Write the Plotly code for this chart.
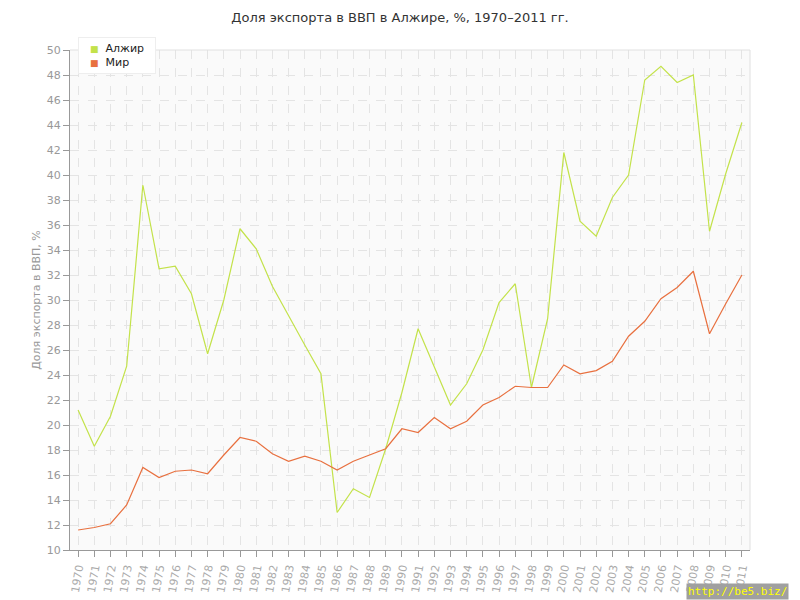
import plotly.graph_objects as go

# Доля экспорта в ВВП, %
years = list(range(1970, 2012))
algeria = [
    21.2, 18.3, 20.7, 24.7, 39.2, 32.5, 32.7, 30.5, 25.7, 30.0,
    35.7, 34.1, 31.1, 28.7, 26.4, 24.1, 13.0, 14.9, 14.2, 18.1,
    22.6, 27.7, 24.7, 21.6, 23.3, 26.0, 29.8, 31.3, 23.0, 28.5,
    41.8, 36.3, 35.1, 38.2, 40.0, 47.6, 48.7, 47.4, 48.0, 35.5,
    40.1, 44.2,
]
world = [
    11.6, 11.8, 12.1, 13.6, 16.6, 15.8, 16.3, 16.4, 16.1, 17.6,
    19.0, 18.7, 17.7, 17.1, 17.5, 17.1, 16.4, 17.1, 17.6, 18.1,
    19.7, 19.4, 20.6, 19.7, 20.3, 21.6, 22.2, 23.1, 23.0, 23.0,
    24.8, 24.1, 24.35, 25.1, 27.1, 28.3, 30.1, 31.0, 32.3, 27.3,
    29.7, 32.0,
]
series_names = ["Алжир", "Мир"]
series_colors = ["#c3e24a", "#e8703f"]

FONT = "DejaVu Sans"
GRID = "#e4e4e4"
AXIS = "#999999"

fig = go.Figure()
for name, vals, col in zip(series_names, [algeria, world], series_colors):
    fig.add_trace(go.Scatter(
        x=years, y=vals, name=name, mode="lines",
        line=dict(color=col, width=1.2),
    ))

# the page body adds an 8px offset, so margins are shifted to compensate
fig.update_layout(
    width=800, height=600,
    margin=dict(l=62, r=58, t=42, b=58),
    paper_bgcolor="white",
    plot_bgcolor="#fafafa",
    font=dict(family=FONT, size=11, color="#999999"),
    title=dict(
        text="Доля экспорта в ВВП в Алжире, %, 1970–2011 гг.",
        x=0.49, xanchor="center", y=0.985, yanchor="middle",
        font=dict(family=FONT, size=13, color="#333333"),
    ),
    showlegend=False,
)
fig.update_xaxes(
    range=[1969.5, 2011.5],
    tickmode="array", tickvals=years, ticktext=[str(y) for y in years],
    tickangle=-80,
    showgrid=True, gridcolor=GRID, griddash="dash", gridwidth=1,
    showline=True, linecolor=AXIS, linewidth=1, mirror=False,
    ticks="outside", ticklen=6, tickcolor=AXIS,
    tickfont=dict(family=FONT, size=11, color="#aaaaaa"),
    zeroline=False,
)
fig.update_yaxes(
    range=[10, 50], dtick=2,
    title=dict(text="Доля экспорта в ВВП, %", font=dict(family=FONT, size=11, color="#999999"), standoff=3),
    showgrid=True, gridcolor=GRID, griddash="dash", gridwidth=1,
    showline=True, linecolor=AXIS, linewidth=1,
    ticks="outside", ticklen=6, tickcolor=AXIS,
    tickfont=dict(family=FONT, size=11, color="#999999"),
    zeroline=False,
)
# light border on top and right of plot area
fig.add_shape(type="line", xref="paper", yref="paper", x0=0, x1=1, y0=1, y1=1,
              line=dict(color="#e0e0e0", width=1))
fig.add_shape(type="line", xref="paper", yref="paper", x0=1, x1=1, y0=0, y1=1,
              line=dict(color="#e0e0e0", width=1))

# compact legend box: small coloured squares next to the series names
legend_text = "<br>".join(
    f"&nbsp;&nbsp;<span style='color:{c}; font-size:9px'>■</span>&nbsp; {n}&nbsp;&nbsp;"
    for n, c in zip(series_names, series_colors)
)
fig.add_annotation(
    text=legend_text, xref="paper", yref="paper",
    x=0.012, y=1.026, xanchor="left", yanchor="top", align="left",
    showarrow=False, bgcolor="white", bordercolor="#eeeeee", borderwidth=1,
    borderpad=4, font=dict(family=FONT, size=11, color="#222222"),
)

fig.add_annotation(
    text="http://be5.biz/", xref="paper", yref="paper",
    x=1.058, y=-0.1, xanchor="right", yanchor="bottom", showarrow=False,
    bgcolor="#a0a0a0", borderpad=1,
    font=dict(family="DejaVu Sans Mono", size=11, color="#ffff00"),
)

fig.write_html("out.html")
